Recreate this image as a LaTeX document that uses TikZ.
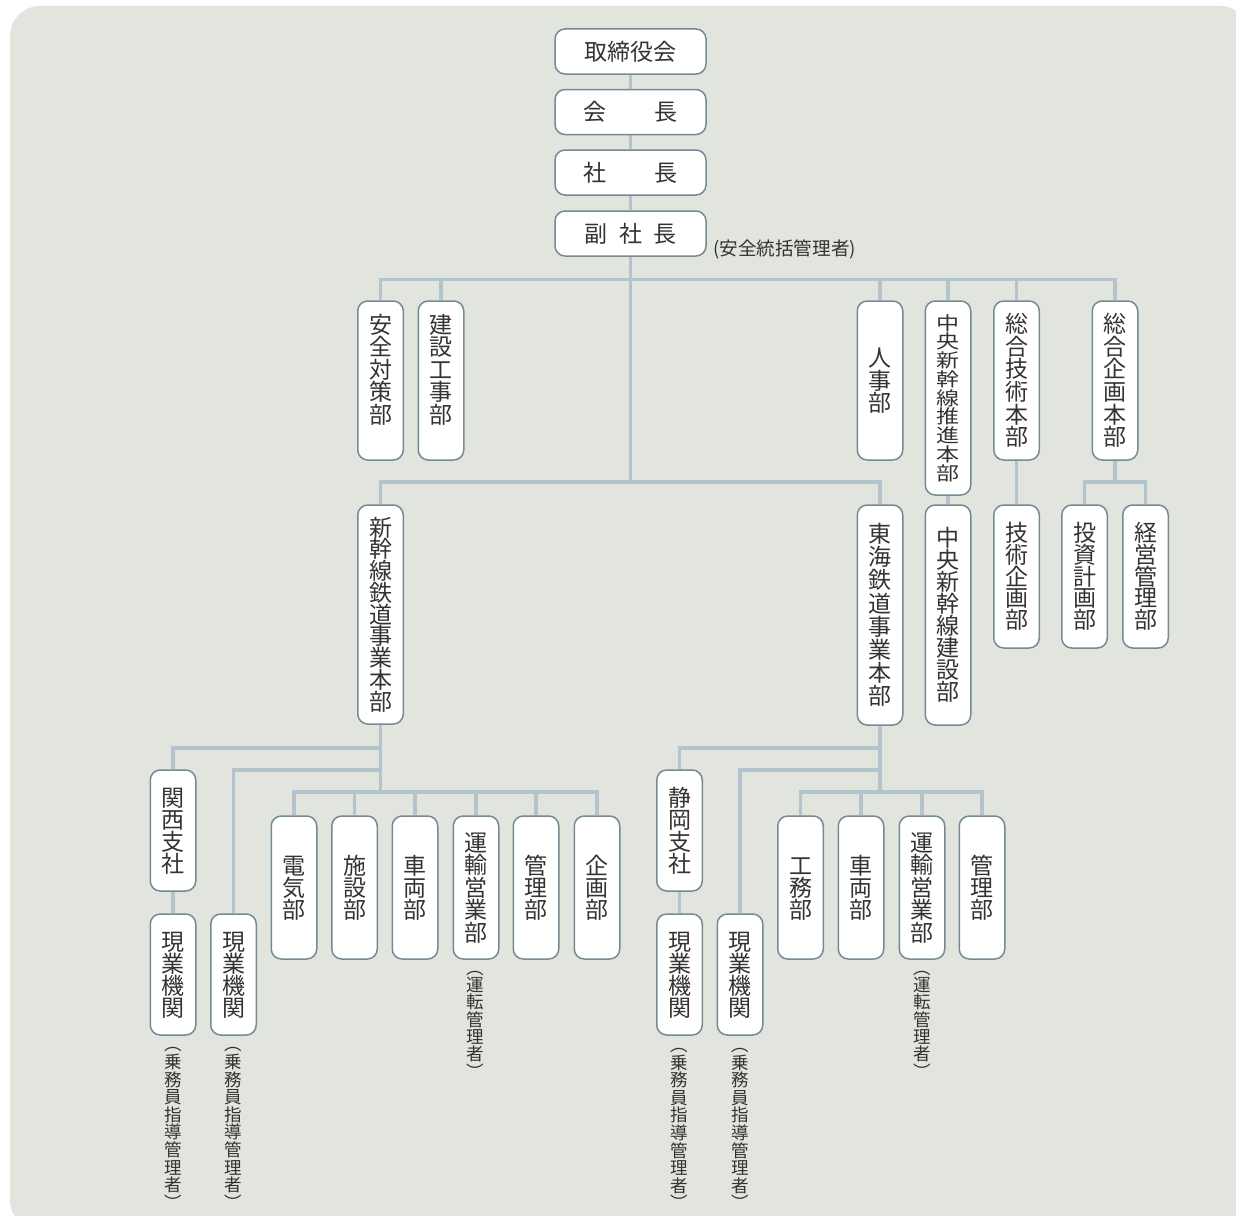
\documentclass[tikz,border=0pt]{standalone}
\usepackage{fontspec}
\usepackage{graphicx}
\newfontfamily\jp{Noto Sans CJK JP}
\definecolor{bgc}{HTML}{E2E5DE}
\definecolor{linec}{HTML}{B4C4CE}
\definecolor{boxc}{HTML}{768A96}
\definecolor{txtc}{HTML}{333333}
\let\vtend\relax
\def\vtwrap{}
\def\vtl#1{\ifx\vtend#1\else\hbox to 1.2em{\hss\vrule height .88em depth .12em width 0pt\relax\vtwrap{#1}\hss}\expandafter\vtl\fi}
\newcommand\vt[3][0pt]{\vbox{\lineskiplimit=-200pt\lineskip=0pt\baselineskip=#2\relax\vtl#3\vtend\vskip#1}}
\newcommand\sqz[1]{\raisebox{0.07em}{\scalebox{1}[0.82]{#1}}}
\pgfdeclarelayer{back}
\pgfdeclarelayer{lines}
\pgfsetlayers{back,lines,main}
\tikzset{
  box/.style={draw=boxc, line width=1.5pt, fill=white, rounded corners=10pt, inner sep=0pt,
    text=txtc, font=\jp\fontsize{23}{23}\selectfont},
  hb/.style={box, minimum width=151pt, minimum height=45pt},
  vb/.style={box, minimum width=45.5pt},
  conn/.style={draw=linec, line width=3.5pt},
  note/.style={inner sep=0pt, text=txtc, font=\jp\fontsize{17.5}{17.5}\selectfont},
}
\begin{document}
\begin{tikzpicture}[x=1pt, y=-1pt]
\useasboundingbox (0,0) rectangle (1236,1215);
\begin{pgfonlayer}{back}
\fill[bgc, rounded corners=30pt] (10,6) rectangle (1250,1230);
\end{pgfonlayer}

% top chain
\node[hb] (tori) at (630.5,51.5) {取締役会};
\node[hb] (kaicho) at (630.5,112) {会\hspace{2.05em}長};
\node[hb] (shacho) at (630.5,172.5) {社\hspace{2.05em}長};
\node[hb] (fuku) at (630.5,233.5) {副\hspace{.5em}社\hspace{.5em}長};
\node[note, font=\jp\fontsize{18.6}{18.6}\selectfont, anchor=west] (fukunote) at (713,249) {(安全統括管理者)};

% row 2
\node[vb, minimum height=159pt] (anzen) at (380.5,380.5) {\vt[22pt]{22.5pt}{安全対策部}};
\node[vb, minimum height=159pt] (kensetsu) at (441,380.5) {\vt[22pt]{22.5pt}{建設工事部}};
\node[vb, minimum height=159pt] (jinji) at (880,380.5) {\vt{22.5pt}{人事部}};
\node[vb, minimum height=194pt] (chuo) at (948,398) {\let\vtwrap\sqz\vt{18.75pt}{中央新幹線推進本部}};
\node[vb, minimum height=159pt] (sogogi) at (1016.5,380.5) {\vt{22.7pt}{総合技術本部}};
\node[vb, minimum height=159pt] (sogoki) at (1115,380.5) {\vt{22.7pt}{総合企画本部}};

% row 3
\node[vb, minimum height=219pt] (shin) at (380.5,614.5) {\vt{21.75pt}{新幹線鉄道事業本部}};
\node[vb, minimum height=220pt] (tokai) at (880,615) {\vt{23.2pt}{東海鉄道事業本部}};
\node[vb, minimum height=220pt] (chuoken) at (948,615) {\vt{22pt}{中央新幹線建設部}};
\node[vb, minimum height=143pt] (gijutsu) at (1016.5,576.5) {\vt{21.75pt}{技術企画部}};
\node[vb, minimum height=143pt] (toshi) at (1084.5,576.5) {\vt{21.75pt}{投資計画部}};
\node[vb, minimum height=143pt] (keiei) at (1145.5,576.5) {\vt{21.75pt}{経営管理部}};

% bottom left
\node[vb, minimum height=121pt] (kansai) at (173,830.5) {\vt{22pt}{関西支社}};
\node[vb, minimum height=121pt] (genA) at (173,974.5) {\vt{22pt}{現業機関}};
\node[vb, minimum height=121pt] (genB) at (233.5,974.5) {\vt{22pt}{現業機関}};
\node[vb, minimum height=143pt] (denki) at (294,887.5) {\vt{22pt}{電気部}};
\node[vb, minimum height=143pt] (shisetsu) at (354.5,887.5) {\vt{22pt}{施設部}};
\node[vb, minimum height=143pt] (sharyoL) at (415,887.5) {\vt{22pt}{車両部}};
\node[vb, minimum height=143pt] (unyuL) at (476,887.5) {\vt{22.5pt}{運輸営業部}};
\node[vb, minimum height=143pt] (kanriL) at (536,887.5) {\vt{22pt}{管理部}};
\node[vb, minimum height=143pt] (kikaku) at (597,887.5) {\vt{22pt}{企画部}};

% bottom right
\node[vb, minimum height=121pt] (shizuoka) at (679.5,830.5) {\vt{22pt}{静岡支社}};
\node[vb, minimum height=121pt] (genC) at (679.5,974.5) {\vt{22pt}{現業機関}};
\node[vb, minimum height=121pt] (genD) at (740,974.5) {\vt{22pt}{現業機関}};
\node[vb, minimum height=143pt] (komu) at (800.5,887.5) {\vt{22pt}{工務部}};
\node[vb, minimum height=143pt] (sharyoR) at (861,887.5) {\vt{22pt}{車両部}};
\node[vb, minimum height=143pt] (unyuR) at (922,887.5) {\vt{22.5pt}{運輸営業部}};
\node[vb, minimum height=143pt] (kanriR) at (982,887.5) {\vt{22pt}{管理部}};

% notes
\node[note] (nA) at (173.5,1123.5) {\vt{17.6pt}{︵乗務員指導管理者︶}};
\node[note] (nB) at (233.5,1123.5) {\vt{17.6pt}{︵乗務員指導管理者︶}};
\node[note] (nC) at (679,1124) {\vt{17.6pt}{︵乗務員指導管理者︶}};
\node[note] (nD) at (740,1124) {\vt{17.6pt}{︵乗務員指導管理者︶}};
\node[note] (nUL) at (475.5,1019.5) {\vt{17.3pt}{︵運転管理者︶}};
\node[note] (nUR) at (922,1019.5) {\vt{17.3pt}{︵運転管理者︶}};

% junctions
\coordinate (b1) at (630.5,279.5);
\coordinate (b2) at (630.5,482);
\coordinate (b3) at (1115,482);
\coordinate (l1) at (380.5,748);
\coordinate (l2) at (380.5,770);
\coordinate (l3) at (380.5,792);
\coordinate (r1) at (880,748);
\coordinate (r2) at (880,770);
\coordinate (r3) at (880,792);

\begin{pgfonlayer}{lines}
\draw[conn] (tori.south) -- (kaicho.north);
\draw[conn] (kaicho.south) -- (shacho.north);
\draw[conn] (shacho.south) -- (fuku.north);
\draw[conn] (fuku.south) -- (b2);
\draw[conn] (b1) -| (anzen.north);
\draw[conn] (b1) -| (kensetsu.north);
\draw[conn] (b1) -| (jinji.north);
\draw[conn] (b1) -| (chuo.north);
\draw[conn] (b1) -| (sogogi.north);
\draw[conn] (b1) -| (sogoki.north);
\draw[conn] (b2) -| (shin.north);
\draw[conn] (b2) -| (tokai.north);
\draw[conn] (chuo.south) -- (chuoken.north);
\draw[conn] (sogogi.south) -- (gijutsu.north);
\draw[conn] (sogoki.south) -- (b3);
\draw[conn] (b3) -| (toshi.north);
\draw[conn] (b3) -| (keiei.north);
% left
\draw[conn] (shin.south) -- (l3);
\draw[conn] (l1) -| (kansai.north);
\draw[conn] (l2) -| (genB.north);
\draw[conn] (kansai.south) -- (genA.north);
\foreach \n in {denki,shisetsu,sharyoL,unyuL,kanriL,kikaku}
  \draw[conn] (l3) -| (\n.north);
% right
\draw[conn] (tokai.south) -- (r3);
\draw[conn] (r1) -| (shizuoka.north);
\draw[conn] (r2) -| (genD.north);
\draw[conn] (shizuoka.south) -- (genC.north);
\foreach \n in {komu,sharyoR,unyuR,kanriR}
  \draw[conn] (r3) -| (\n.north);
\end{pgfonlayer}
\end{tikzpicture}
\end{document}
